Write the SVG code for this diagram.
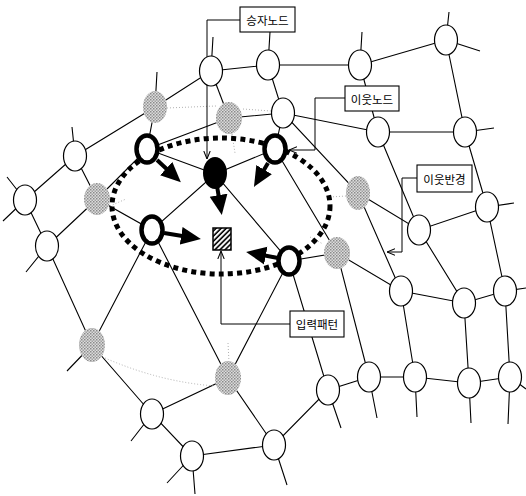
<svg xmlns="http://www.w3.org/2000/svg" width="526" height="496" viewBox="0 0 526 496">
<style>
.e{stroke:#000;stroke-width:1.1;fill:none}
.f{stroke:#b0b0b0;stroke-width:1;fill:none;stroke-dasharray:1 2}
.n{fill:#fff;stroke:#000;stroke-width:1.2}
.b{fill:#fff;stroke:#000;stroke-width:4.5}
.gw{fill:#fff}
.gh{fill:url(#ht)}
.ba{stroke:#000;stroke-width:4;fill:none;marker-end:url(#big)}
.lc{stroke:#000;stroke-width:1;fill:none}
.box{fill:#fff;stroke:#000;stroke-width:1.1}
.t{font-family:"Noto Sans CJK KR","Noto Sans",sans-serif;font-size:11.5px;fill:#000;text-anchor:middle;dominant-baseline:central}
</style>
<defs>
<pattern id="ht" width="3" height="3" patternUnits="userSpaceOnUse">
<rect width="3" height="3" fill="#dcdcdc"/>
<rect width="1.5" height="1.5" fill="#8a8a8a"/>
<rect x="1.5" y="1.5" width="1.5" height="1.5" fill="#a0a0a0"/>
</pattern>
<pattern id="hatch" width="3.6" height="3.6" patternUnits="userSpaceOnUse" patternTransform="rotate(45)">
<rect width="3.6" height="3.6" fill="#fff"/>
<line x1="1" y1="0" x2="1" y2="3.6" stroke="#000" stroke-width="1.6"/>
</pattern>
<marker id="big" viewBox="0 0 10 10" markerWidth="5" markerHeight="5" refX="6" refY="5" orient="auto">
<path d="M0,0.5 L10,5 L0,9.5 Z" fill="#000"/>
</marker>
<marker id="open" viewBox="0 0 10 10" markerWidth="8" markerHeight="8" refX="10" refY="5" orient="auto" markerUnits="userSpaceOnUse">
<path d="M0,1 L10,5 L0,9" fill="none" stroke="#000" stroke-width="1.3"/>
</marker>
</defs>
<rect width="526" height="496" fill="#fff"/>

<g id="connectors">
<path class="e" d="M25,200 L75,156 L155,107 L211,71 L268,65 L360,65 L446,40"/>
<path class="e" d="M47,246 L97,199 L147,149 L229,118 L283,113 L378,132 L465,132"/>
<path class="e" d="M92,345 L152,230 L215,174 L275,149"/>
<path class="e" d="M358,193 L419,230 L487,207"/>
<path class="e" d="M152,414 L228,378 L289,261 L337,253 L401,291 L464,303 L505,291"/>
<path class="e" d="M192,456 L274,445 L328,390 L369,377 L415,377 L469,383 L510,377"/>
<path class="e" d="M25,200 L47,246 L92,345 L152,414 L192,456"/>
<path class="e" d="M75,156 L97,199 L152,230 L228,378 L274,445"/>
<path class="e" d="M155,107 L147,149 L215,174 L289,261 L328,390"/>
<path class="e" d="M211,71 L229,118"/>
<path class="e" d="M275,149 L337,253 L369,377"/>
<path class="e" d="M268,65 L283,113 L358,193 L401,291 L415,377"/>
<path class="e" d="M283,113 L275,149"/>
<path class="e" d="M360,65 L378,132 L419,230 L464,303 L469,383"/>
<path class="e" d="M446,40 L465,132 L487,207 L505,291 L510,377"/>
<path class="e" d="M25,200 L7,177 M25,200 L3,221 M47,246 L26,272 M75,156 L72,127 M155,107 L157,72 M211,71 L213,37 M268,65 L270,32 M360,65 L362,32 M446,40 L449,12 M446,40 L480,51 M465,132 L494,128 M487,207 L514,203 M505,291 L526,288 M510,377 L526,389 M510,377 L508,424 M469,383 L471,423 M415,377 L417,417 M369,377 L377,418 M328,390 L341,428 M274,445 L287,485 M192,456 L167,483 M192,456 L195,494 M152,414 L131,441 M92,345 L67,371"/>
<path class="f" d="M167,108 L216,106 M243,109 L271,111 M105,358 Q160,382 215,386 M330,197 L346,196 M310,237 L323,244 M110,206 L126,199 M228,343 L229,362 M232,134 L235,153"/>
<path class="lc" d="M240,20 L207,20 L207,159" marker-end="url(#open)"/>
<path class="lc" d="M345,98 L315,98 L315,150 L289,150" marker-end="url(#open)"/>
<path class="lc" d="M417,178 L402,178 L402,252 L387,252" marker-end="url(#open)"/>
<path class="lc" d="M290,324 L221,324 L221,251" marker-end="url(#open)"/>
</g>

<g id="radius">
<ellipse cx="221" cy="206" rx="109" ry="68" fill="none" stroke="#000" stroke-width="5" stroke-dasharray="5 4.2"/>
</g>

<g id="node-A"><ellipse class="n" cx="211" cy="71" rx="11.5" ry="15"/></g>
<g id="node-B"><ellipse class="n" cx="268" cy="65" rx="11.5" ry="15"/></g>
<g id="node-C"><ellipse class="n" cx="360" cy="65" rx="11.5" ry="15"/></g>
<g id="node-D"><ellipse class="n" cx="446" cy="40" rx="11.5" ry="15"/></g>
<g id="node-E"><ellipse class="n" cx="283" cy="113" rx="11.5" ry="15"/></g>
<g id="node-F"><ellipse class="n" cx="378" cy="132" rx="11.5" ry="15"/></g>
<g id="node-G"><ellipse class="n" cx="465" cy="132" rx="11.5" ry="15"/></g>
<g id="node-H"><ellipse class="n" cx="75" cy="156" rx="11.5" ry="15"/></g>
<g id="node-I"><ellipse class="n" cx="25" cy="200" rx="11.5" ry="15"/></g>
<g id="node-J"><ellipse class="n" cx="47" cy="246" rx="11.5" ry="15"/></g>
<g id="node-K"><ellipse class="n" cx="487" cy="207" rx="11.5" ry="15"/></g>
<g id="node-L"><ellipse class="n" cx="419" cy="230" rx="11.5" ry="15"/></g>
<g id="node-M"><ellipse class="n" cx="152" cy="414" rx="11.5" ry="15"/></g>
<g id="node-N"><ellipse class="n" cx="192" cy="456" rx="11.5" ry="15"/></g>
<g id="node-O"><ellipse class="n" cx="401" cy="291" rx="11.5" ry="15"/></g>
<g id="node-P"><ellipse class="n" cx="464" cy="303" rx="11.5" ry="15"/></g>
<g id="node-Q"><ellipse class="n" cx="505" cy="291" rx="11.5" ry="15"/></g>
<g id="node-R"><ellipse class="n" cx="369" cy="377" rx="11.5" ry="15"/></g>
<g id="node-S"><ellipse class="n" cx="415" cy="377" rx="11.5" ry="15"/></g>
<g id="node-T"><ellipse class="n" cx="469" cy="383" rx="11.5" ry="15"/></g>
<g id="node-U"><ellipse class="n" cx="510" cy="377" rx="11.5" ry="15"/></g>
<g id="node-V"><ellipse class="n" cx="328" cy="390" rx="11.5" ry="15"/></g>
<g id="node-W"><ellipse class="n" cx="274" cy="445" rx="11.5" ry="15"/></g>

<g id="gray-1"><ellipse class="gw" cx="155" cy="107" rx="12" ry="16"/><ellipse class="gh" cx="155" cy="107" rx="12" ry="16"/></g>
<g id="gray-2"><ellipse class="gw" cx="229" cy="118" rx="13" ry="16"/><ellipse class="gh" cx="229" cy="118" rx="13" ry="16"/></g>
<g id="gray-3"><ellipse class="gw" cx="97" cy="199" rx="13" ry="16"/><ellipse class="gh" cx="97" cy="199" rx="13" ry="16"/></g>
<g id="gray-4"><ellipse class="gw" cx="358" cy="193" rx="12" ry="17"/><ellipse class="gh" cx="358" cy="193" rx="12" ry="17"/></g>
<g id="gray-5"><ellipse class="gw" cx="337" cy="253" rx="13" ry="16"/><ellipse class="gh" cx="337" cy="253" rx="13" ry="16"/></g>
<g id="gray-6"><ellipse class="gw" cx="92" cy="345" rx="13" ry="17"/><ellipse class="gh" cx="92" cy="345" rx="13" ry="17"/></g>
<g id="gray-7"><ellipse class="gw" cx="228" cy="378" rx="13" ry="17"/><ellipse class="gh" cx="228" cy="378" rx="13" ry="17"/></g>

<g id="neighbor-UL"><ellipse class="b" cx="147" cy="149" rx="10.5" ry="13.5"/><line class="ba" x1="157" y1="160" x2="175" y2="176.7"/></g>
<g id="neighbor-UR"><ellipse class="b" cx="275" cy="149" rx="10.5" ry="13.5"/><line class="ba" x1="268" y1="163" x2="258" y2="180"/></g>
<g id="neighbor-LL"><ellipse class="b" cx="152" cy="230" rx="10.5" ry="13.5"/><line class="ba" x1="164" y1="233" x2="193" y2="237.7"/></g>
<g id="neighbor-LR"><ellipse class="b" cx="289" cy="261" rx="10.5" ry="13.5"/><line class="ba" x1="278" y1="258" x2="254" y2="253.4"/></g>

<g id="winner">
<ellipse cx="215" cy="173" rx="12" ry="16" fill="#000"/>
<line class="ba" x1="217" y1="186" x2="220.5" y2="207"/>
</g>

<g id="input-pattern"><rect x="213" y="228" width="18" height="22" fill="url(#hatch)" stroke="#000" stroke-width="1.5"/></g>

<g id="label-winner"><rect class="box" x="240" y="7" width="55" height="25"/><text class="t" x="267.5" y="19.5">승자노드</text></g>
<g id="label-neighbor"><rect class="box" x="345" y="86" width="54" height="25"/><text class="t" x="372" y="98.5">이웃노드</text></g>
<g id="label-radius"><rect class="box" x="417" y="165" width="55" height="27"/><text class="t" x="444.5" y="178.5">이웃반경</text></g>
<g id="label-input"><rect class="box" x="290" y="311" width="54" height="26"/><text class="t" x="317" y="324">입력패턴</text></g>
</svg>
